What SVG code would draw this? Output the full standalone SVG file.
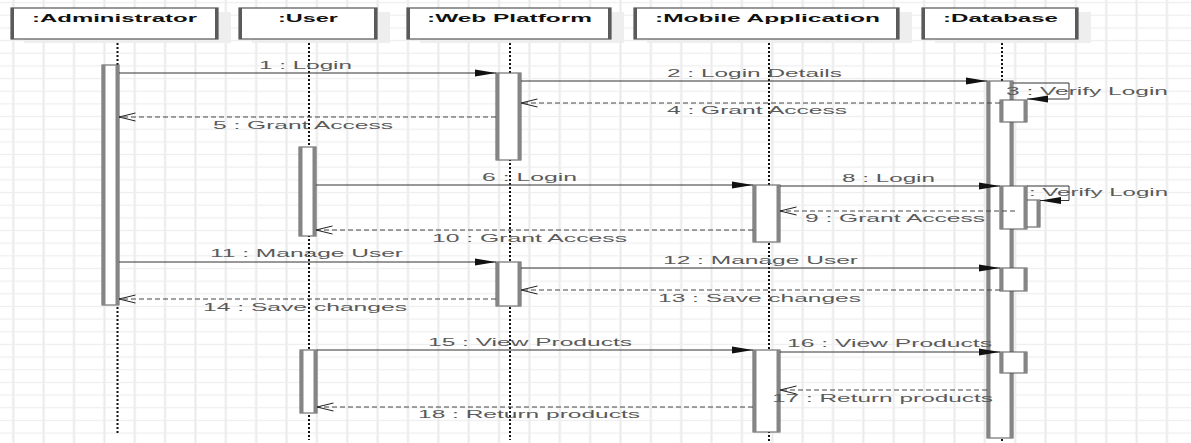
<svg xmlns="http://www.w3.org/2000/svg" width="1191" height="443" viewBox="0 0 1191 443">
  <style>
    .hdr-shadow { fill: #eeeeee; }
    .hdr { fill: #ffffff; stroke: #555555; stroke-width: 1.2; }
    .hdr-side { stroke: #5a5a5a; stroke-width: 3; fill: none; }
    .hdr-text { font-family: "Liberation Sans", Arial, sans-serif; font-weight: bold; font-size: 11.5px; fill: #111111; }
    .life { stroke: #111111; stroke-width: 2; stroke-dasharray: 2 2; fill: none; }
    .act { fill: #ffffff; stroke: #555555; stroke-width: 1; }
    .act-side { stroke: #858585; stroke-width: 3.5; fill: none; }
    .msg { stroke: #333333; stroke-width: 1; fill: none; }
    .ret { stroke: #444444; stroke-width: 1; fill: none; stroke-dasharray: 5 3; }
    .lbl { font-family: "Liberation Sans", Arial, sans-serif; font-size: 11.5px; fill: #5a5a5a; }
  </style>
  <defs>
    <pattern id="grid" patternUnits="userSpaceOnUse" x="-1.88" y="-3.73" width="30.36" height="12.66">
      <line x1="15.18" y1="0" x2="15.18" y2="12.66" stroke="#e9e9e9" stroke-width="2"/>
      <line x1="0" y1="6.33" x2="30.36" y2="6.33" stroke="#eeeeee" stroke-width="1.3"/>
    </pattern>
    <marker id="arrow-sync" markerUnits="userSpaceOnUse" markerWidth="22" markerHeight="8" refX="21" refY="4" orient="auto">
      <path d="M0,0.5 L21,4 L0,7.5 z" fill="#111111"/>
    </marker>
    <marker id="arrow-open" markerUnits="userSpaceOnUse" markerWidth="18" markerHeight="10" refX="16.5" refY="5" orient="auto">
      <path d="M0,1 L16.5,5 L0,9" fill="none" stroke="#222222" stroke-width="1"/>
    </marker>
  </defs>

  <!-- background grid -->
  <rect x="0" y="0" width="1191" height="443" fill="#ffffff"/>
  <rect x="0" y="0" width="1191" height="443" fill="url(#grid)"/>

  <!-- lifelines -->
  <g id="lifelines">
    <line class="life" x1="117.5" y1="39" x2="117.5" y2="433"/>
    <line class="life" x1="309" y1="39" x2="309" y2="440"/>
    <line class="life" x1="510" y1="39" x2="510" y2="440"/>
    <line class="life" x1="769" y1="39" x2="769" y2="443"/>
    <line class="life" x1="1002" y1="39" x2="1002" y2="443"/>
  </g>

  <!-- participants -->
  <g id="administrator">
    <rect class="hdr-shadow" x="24" y="12" width="207" height="31"/>
    <rect class="hdr" x="11" y="8" width="207" height="31"/>
    <path class="hdr-side" d="M12.5,8 V39 M216.5,8 V39"/>
    <text class="hdr-text" x="32" y="22" textLength="165" lengthAdjust="spacingAndGlyphs">:Administrator</text>
    <rect class="act" x="102" y="65" width="17" height="240"/>
    <path class="act-side" d="M103.75,65 V305 M117.25,65 V305"/>
  </g>

  <g id="user">
    <rect class="hdr-shadow" x="252" y="12" width="138" height="31"/>
    <rect class="hdr" x="239" y="8" width="138" height="31"/>
    <path class="hdr-side" d="M240.5,8 V39 M375.5,8 V39"/>
    <text class="hdr-text" x="278" y="22" textLength="60" lengthAdjust="spacingAndGlyphs">:User</text>
    <rect class="act" x="299" y="147" width="17" height="89"/>
    <path class="act-side" d="M300.75,147 V236 M314.25,147 V236"/>
    <rect class="act" x="300" y="350" width="17" height="63"/>
    <path class="act-side" d="M301.75,350 V413 M315.25,350 V413"/>
  </g>

  <g id="web-platform">
    <rect class="hdr-shadow" x="420" y="12" width="204" height="31"/>
    <rect class="hdr" x="407" y="8" width="204" height="31"/>
    <path class="hdr-side" d="M408.5,8 V39 M609.5,8 V39"/>
    <text class="hdr-text" x="427" y="22" textLength="165" lengthAdjust="spacingAndGlyphs">:Web Platform</text>
    <rect class="act" x="496" y="73" width="25" height="87"/>
    <path class="act-side" d="M497.75,73 V160 M519.25,73 V160"/>
    <rect class="act" x="496" y="262" width="25" height="44"/>
    <path class="act-side" d="M497.75,262 V306 M519.25,262 V306"/>
  </g>

  <g id="mobile-application">
    <rect class="hdr-shadow" x="647" y="12" width="265" height="31"/>
    <rect class="hdr" x="634" y="8" width="265" height="31"/>
    <path class="hdr-side" d="M635.5,8 V39 M897.5,8 V39"/>
    <text class="hdr-text" x="655" y="22" textLength="225" lengthAdjust="spacingAndGlyphs">:Mobile Application</text>
    <rect class="act" x="753" y="185" width="27" height="57"/>
    <path class="act-side" d="M754.75,185 V242 M778.25,185 V242"/>
    <rect class="act" x="753" y="350" width="27" height="82"/>
    <path class="act-side" d="M754.75,350 V432 M778.25,350 V432"/>
  </g>

  <g id="database">
    <rect class="hdr-shadow" x="935" y="12" width="156" height="31"/>
    <rect class="hdr" x="922" y="8" width="156" height="31"/>
    <path class="hdr-side" d="M923.5,8 V39 M1076.5,8 V39"/>
    <text class="hdr-text" x="943" y="22" textLength="115" lengthAdjust="spacingAndGlyphs">:Database</text>
    <rect class="act" x="987" y="81" width="26" height="357"/>
    <path class="act-side" d="M988.75,81 V438 M1011.25,81 V438"/>
    <rect class="act" x="1000" y="100" width="27" height="22"/>
    <path class="act-side" d="M1001.75,100 V122 M1025.25,100 V122"/>
    <rect class="act" x="1014" y="200" width="26" height="27"/>
    <path class="act-side" d="M1015.75,200 V227 M1038.25,200 V227"/>
    <rect class="act" x="1000" y="186" width="27" height="43"/>
    <path class="act-side" d="M1001.75,186 V229 M1025.25,186 V229"/>
    <rect class="act" x="1000" y="268" width="27" height="23"/>
    <path class="act-side" d="M1001.75,268 V291 M1025.25,268 V291"/>
    <rect class="act" x="1000" y="352" width="27" height="21"/>
    <path class="act-side" d="M1001.75,352 V373 M1025.25,352 V373"/>
  </g>

  <!-- messages -->
  <g id="connectors">
    <line class="msg" x1="119" y1="73" x2="496" y2="73" marker-end="url(#arrow-sync)"/>
    <line class="msg" x1="521" y1="81" x2="987" y2="81" marker-end="url(#arrow-sync)"/>
    <path class="msg" d="M1013,83 H1069 V99 H1027" marker-end="url(#arrow-sync)"/>
    <line class="ret" x1="1000" y1="103" x2="521" y2="103" marker-end="url(#arrow-open)"/>
    <line class="ret" x1="496" y1="117" x2="119" y2="117" marker-end="url(#arrow-open)"/>
    <line class="msg" x1="316" y1="185" x2="753" y2="185" marker-end="url(#arrow-sync)"/>
    <line class="msg" x1="780" y1="186" x2="1000" y2="186" marker-end="url(#arrow-sync)"/>
    <path class="msg" d="M1027,186 H1069 V200.5 H1040" marker-end="url(#arrow-sync)"/>
    <line class="ret" x1="1015" y1="211" x2="780" y2="211" marker-end="url(#arrow-open)"/>
    <line class="ret" x1="753" y1="230" x2="316" y2="230" marker-end="url(#arrow-open)"/>
    <line class="msg" x1="119" y1="262" x2="496" y2="262" marker-end="url(#arrow-sync)"/>
    <line class="msg" x1="521" y1="268" x2="1000" y2="268" marker-end="url(#arrow-sync)"/>
    <line class="ret" x1="1000" y1="290" x2="521" y2="290" marker-end="url(#arrow-open)"/>
    <line class="ret" x1="496" y1="299" x2="119" y2="299" marker-end="url(#arrow-open)"/>
    <line class="msg" x1="317" y1="350" x2="753" y2="350" marker-end="url(#arrow-sync)"/>
    <line class="msg" x1="780" y1="352" x2="1000" y2="352" marker-end="url(#arrow-sync)"/>
    <line class="ret" x1="987" y1="390" x2="780" y2="390" marker-end="url(#arrow-open)"/>
    <line class="ret" x1="753" y1="407" x2="317" y2="407" marker-end="url(#arrow-open)"/>
  </g>

  <!-- message labels -->
  <g id="labels">
    <text class="lbl" x="259" y="69" textLength="93" lengthAdjust="spacingAndGlyphs">1 : Login</text>
    <text class="lbl" x="667" y="77" textLength="175" lengthAdjust="spacingAndGlyphs">2 : Login Details</text>
    <text class="lbl" x="1006" y="95" textLength="162" lengthAdjust="spacingAndGlyphs">3 : Verify Login</text>
    <text class="lbl" x="667" y="114" textLength="180" lengthAdjust="spacingAndGlyphs">4 : Grant Access</text>
    <text class="lbl" x="213" y="129" textLength="180" lengthAdjust="spacingAndGlyphs">5 : Grant Access</text>
    <text class="lbl" x="482" y="181" textLength="95" lengthAdjust="spacingAndGlyphs">6 : Login</text>
    <text class="lbl" x="842" y="181.5" textLength="93" lengthAdjust="spacingAndGlyphs">8 : Login</text>
    <text class="lbl" x="1029" y="196" textLength="139" lengthAdjust="spacingAndGlyphs">: Verify Login</text>
    <text class="lbl" x="805" y="222" textLength="180" lengthAdjust="spacingAndGlyphs">9 : Grant Access</text>
    <text class="lbl" x="432" y="242" textLength="195" lengthAdjust="spacingAndGlyphs">10 : Grant Access</text>
    <text class="lbl" x="210" y="257" textLength="193" lengthAdjust="spacingAndGlyphs">11 : Manage User</text>
    <text class="lbl" x="663" y="264" textLength="195" lengthAdjust="spacingAndGlyphs">12 : Manage User</text>
    <text class="lbl" x="658" y="301.5" textLength="203" lengthAdjust="spacingAndGlyphs">13 : Save changes</text>
    <text class="lbl" x="203" y="311" textLength="204" lengthAdjust="spacingAndGlyphs">14 : Save changes</text>
    <text class="lbl" x="428" y="346" textLength="204" lengthAdjust="spacingAndGlyphs">15 : View Products</text>
    <text class="lbl" x="787" y="347" textLength="205" lengthAdjust="spacingAndGlyphs">16 : View Products</text>
    <text class="lbl" x="772" y="402" textLength="221" lengthAdjust="spacingAndGlyphs">17 : Return products</text>
    <text class="lbl" x="418" y="418" textLength="222" lengthAdjust="spacingAndGlyphs">18 : Return products</text>
  </g>
</svg>
